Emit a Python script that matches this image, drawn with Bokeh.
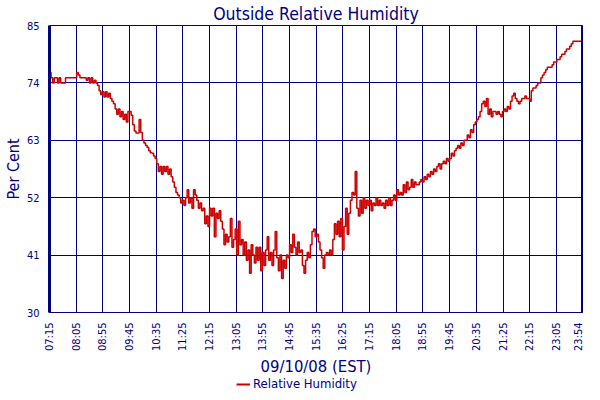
import math
from bokeh.plotting import figure
from bokeh.layouts import column
from bokeh.models import FixedTicker, Legend, LegendItem, Span, ColumnDataSource
from bokeh.embed import file_html
from bokeh.resources import INLINE

# sampling interval (minutes) starting at 07:15
sample_step_min = 3

humidity = [
    76, 75, 74, 75, 75, 74, 75, 74, 74, 74,
    75, 75, 75, 75, 75, 75, 75, 76, 75.5, 75,
    75, 75, 75, 74.5, 75, 74, 75, 74, 74.5, 74,
    73.5, 72.5, 71.8, 72.3, 71.3, 72.3, 71.3, 72, 71, 70.5,
    70, 69, 68, 69, 67.5, 68.5, 67, 68, 66.5, 68.5,
    68.5, 67.8, 66, 64.8, 64.4, 64.4, 67, 64.5, 63, 62.5,
    62, 61.6, 61, 60.6, 60.5, 60, 59.5, 58.5, 57, 58,
    56.5, 58, 57, 58, 56.5, 57.5, 56, 55, 54, 53,
    52.5, 52, 51, 51.5, 50.5, 52, 53.5, 51, 52, 50,
    53.5, 52.5, 51.5, 50, 51, 49.5, 50, 47, 48.5, 46.5,
    50, 48.5, 50, 44.5, 49, 48, 49.5, 47.5, 46, 43,
    45, 43.5, 44.5, 48, 42.5, 44, 46, 41, 47.5, 43,
    44, 41, 43.5, 40, 42, 37.5, 43, 41, 39.5, 42.5,
    40, 42.5, 38, 41.5, 39, 42, 44.5, 40, 41.5, 39,
    42, 45.5, 40.5, 38, 41, 36.5, 40, 38.5, 41, 40.5,
    43, 41.5, 45, 42.5, 41, 43.5, 41.5, 42, 39, 37.5,
    40, 41.5, 40.5, 43, 45.5, 46, 44.5, 45, 43.5, 42,
    40.5, 38.5, 41, 41.5, 41, 42, 41, 44, 47, 45,
    47.5, 44.5, 48, 42, 46.5, 50, 45, 49, 51.5, 53,
    52.5, 57, 50, 48.5, 51.5, 49, 52, 50, 51.5, 50.5,
    51.5, 49.5, 51, 50.5, 52, 50.5, 51.5, 50.5, 51, 50,
    51.5, 50.5, 52, 50.5, 51.5, 52.5, 51.5, 53.5, 52.5, 53,
    52.5, 54.5, 53, 55, 53.5, 54, 55.5, 54, 55, 54.5,
    54.5, 55, 55.5, 55, 56, 55.5, 56.5, 56, 57, 56.5,
    57.5, 57, 58, 58.5, 57.5, 58.5, 59, 58.5, 59.5, 59,
    59.5, 60.5, 60, 61, 61.5, 62, 61.5, 62.5, 62, 63,
    63, 64, 63.5, 65, 64.5, 66, 66.5, 67, 67.5, 68.5,
    70, 70.5, 69.5, 71, 68, 69, 67.5, 68.5, 68.5, 68,
    68.5, 68, 67.5, 68.5, 69, 68.5, 69.5, 69, 70.5, 71.5,
    72, 71, 70.5, 70, 70.5, 71, 71, 71.5, 71, 71,
    70.5, 72.5, 73, 73, 73.5, 74, 74, 75, 75.5, 76,
    76.5, 77, 77, 77, 77.5, 78, 78, 78.5, 78.5, 79,
    79.5, 79.5, 80, 80.5, 80.5, 81, 81.5, 82, 82, 82,
    82, 82, 82, 82,
]
minutes = [i * sample_step_min for i in range(len(humidity))]

tick_minutes = [0, 50, 100, 150, 200, 250, 300, 350, 400, 450, 500,
                550, 600, 650, 700, 750, 800, 850, 900, 950, 999]
tick_labels = ["07:15", "08:05", "08:55", "09:45", "10:35", "11:25", "12:15",
               "13:05", "13:55", "14:45", "15:35", "16:25", "17:15", "18:05",
               "18:55", "19:45", "20:35", "21:25", "22:15", "23:05", "23:54"]
y_ticks = [30, 41, 52, 63, 74, 85]
series_name = "Relative Humidity"
x_title = "09/10/08 (EST)"

NAVY = "#000080"
RED = "#cc0000"
FONT = "DejaVu Sans Condensed"

src = ColumnDataSource(dict(t=minutes, h=humidity))

p = figure(width=584, height=354, x_range=(0, 999), y_range=(30, 85),
           output_backend="svg", toolbar_location=None,
           min_border_left=5, min_border_right=2, min_border_top=5,
           min_border_bottom=2)
p.background_fill_color = "white"
p.border_fill_color = "white"
p.outline_line_color = NAVY
p.outline_line_width = 1

p.title.text = "Outside Relative Humidity"
p.title.align = "center"
p.title.text_font = FONT
p.title.text_font_size = "17.5px"
p.title.text_font_style = "normal"
p.title.text_color = NAVY
p.title.standoff = 3

r = p.step("t", "h", source=src, mode="after", line_color=RED, line_width=1.5)

xa = p.xaxis[0]
xa.ticker = FixedTicker(ticks=tick_minutes)
xa.major_label_overrides = {m: l for m, l in zip(tick_minutes, tick_labels)}
xa.major_label_orientation = math.pi / 2
xa.major_label_text_font = FONT
xa.major_label_text_font_size = "11px"
xa.major_label_text_color = NAVY
xa.major_tick_line_color = None
xa.minor_tick_line_color = None
xa.axis_line_color = NAVY
xa.major_label_standoff = 4

ya = p.yaxis[0]
ya.ticker = FixedTicker(ticks=y_ticks)
ya.major_label_text_font = FONT
ya.major_label_text_font_size = "11px"
ya.major_label_text_color = NAVY
ya.major_tick_line_color = None
ya.minor_tick_line_color = None
ya.axis_line_color = NAVY
ya.axis_line_width = 3
ya.axis_label = "Per Cent"
ya.axis_label_text_font = FONT
ya.axis_label_text_font_size = "16px"
ya.axis_label_text_font_style = "normal"
ya.axis_label_text_color = NAVY
ya.axis_label_standoff = 1
ya.major_label_standoff = 4

right_edge = Span(location=999, dimension="height", line_color=NAVY, line_width=3)
p.add_layout(right_edge)

p.xgrid.ticker = FixedTicker(ticks=tick_minutes)
p.xgrid.grid_line_color = NAVY
p.xgrid.grid_line_width = 1
p.ygrid.ticker = FixedTicker(ticks=y_ticks)
p.ygrid.grid_line_color = NAVY
p.ygrid.grid_line_width = 1

# strip below the chart: x-axis title and legend
pl = figure(width=584, height=38, x_range=(0, 1), y_range=(0, 1),
            output_backend="svg", toolbar_location=None,
            min_border_left=40, min_border_right=0, min_border_top=0,
            min_border_bottom=0)
pl.axis.visible = False
pl.grid.visible = False
pl.outline_line_color = None
pl.background_fill_color = "white"
pl.border_fill_color = "white"
pl.title.text = x_title
pl.title.align = "center"
pl.title.text_font = FONT
pl.title.text_font_size = "16.5px"
pl.title.text_font_style = "normal"
pl.title.text_color = NAVY
pl.title.standoff = 0
rl = pl.line(x=[-5, -4], y=[-5, -4], line_color=RED, line_width=2)
legend = Legend(items=[LegendItem(label=series_name, renderers=[rl])],
                location=(187, 1), orientation="horizontal",
                border_line_color=None, background_fill_alpha=0,
                label_text_font=FONT, label_text_font_size="13px",
                label_text_color=NAVY, glyph_width=14, glyph_height=10,
                padding=0, margin=0, label_standoff=3, label_height=12)
pl.add_layout(legend)

layout = column(p, pl, spacing=0)
open("out.html", "w").write(file_html(layout, INLINE))
